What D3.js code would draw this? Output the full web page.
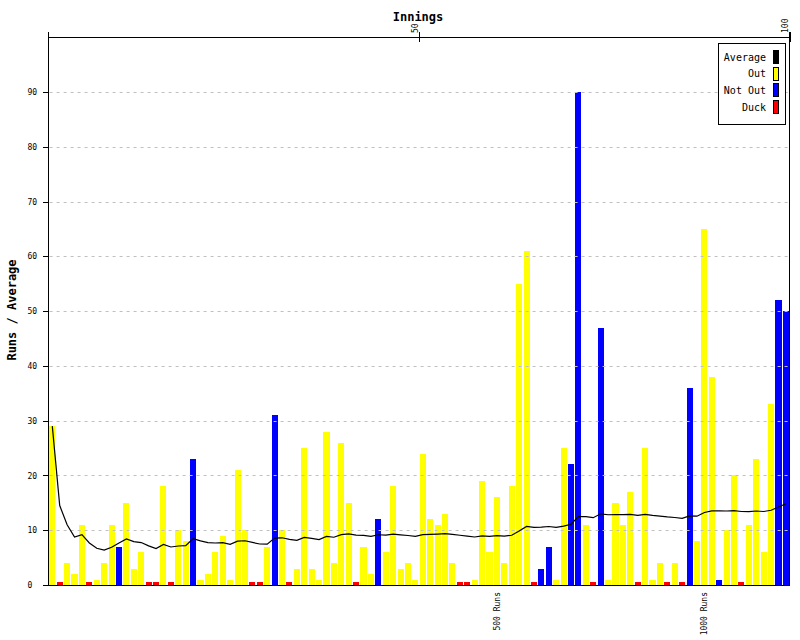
<!DOCTYPE html>
<html>
<head>
<meta charset="utf-8">
<script src="https://cdn.jsdelivr.net/npm/d3@7"></script>
<style>
  html, body { margin: 0; padding: 0; background: #fff; }
  svg { display: block; }
  text { font-family: "DejaVu Sans Mono", monospace; }
</style>
</head>
<body>
<div id="chart"></div>
<script>
// ---------- DATA ----------
const innings = d3.range(1, 101);

const runs = [
  29, 0, 4, 2, 11, 0, 1, 4, 11, 7,
  15, 3, 6, 0, 0, 18, 0, 10, 8, 23,
  1, 2, 6, 9, 1, 21, 10, 0, 0, 7,
  31, 10, 0, 3, 25, 3, 1, 28, 4, 26,
  15, 0, 7, 2, 12, 6, 18, 3, 4, 1,
  24, 12, 11, 13, 4, 0, 0, 1, 19, 6,
  16, 4, 18, 55, 61, 0, 3, 7, 1, 25,
  22, 90, 11, 0, 47, 1, 15, 11, 17, 0,
  25, 1, 4, 0, 4, 0, 36, 8, 65, 38,
  1, 10, 20, 0, 11, 23, 6, 33, 52, 50
];

// O = out, N = not out, D = duck
const status = [
  "O","D","O","O","O","D","O","O","O","N",
  "O","O","O","D","D","O","D","O","O","N",
  "O","O","O","O","O","O","O","D","D","O",
  "N","O","D","O","O","O","O","O","O","O",
  "O","D","O","O","N","O","O","O","O","O",
  "O","O","O","O","O","D","D","O","O","O",
  "O","O","O","O","O","D","N","N","O","O",
  "N","N","O","D","N","O","O","O","O","D",
  "O","O","O","D","O","D","N","O","O","O",
  "N","O","O","D","O","O","O","O","N","N"
];

// running batting average after each innings
const average = [
  29.00, 14.50, 11.00, 8.75, 9.20, 7.67, 6.71, 6.38, 6.89, 7.67,
  8.40, 7.91, 7.75, 7.15, 6.64, 7.40, 6.94, 7.12, 7.17, 8.44,
  8.05, 7.75, 7.67, 7.73, 7.43, 8.00, 8.08, 7.77, 7.48, 7.46,
  8.57, 8.62, 8.33, 8.16, 8.69, 8.52, 8.29, 8.86, 8.72, 9.19,
  9.34, 9.10, 9.05, 8.88, 9.17, 9.10, 9.30, 9.16, 9.04, 8.87,
  9.19, 9.25, 9.29, 9.36, 9.25, 9.08, 8.91, 8.76, 8.95, 8.89,
  9.02, 8.93, 9.08, 9.85, 10.69, 10.52, 10.56, 10.68, 10.52, 10.75,
  11.09, 12.50, 12.48, 12.29, 13.00, 12.82, 12.85, 12.83, 12.89, 12.70,
  12.88, 12.71, 12.59, 12.43, 12.32, 12.16, 12.62, 12.56, 13.23, 13.54,
  13.55, 13.51, 13.59, 13.42, 13.39, 13.51, 13.42, 13.64, 14.24, 14.82
];

const yTicks = [0, 10, 20, 30, 40, 50, 60, 70, 80, 90];
const gridTicks = [10, 20, 30, 40, 50, 60, 70, 80, 90];
const topTicks = [50, 100];
const milestoneLabels = ["500 Runs", "1000 Runs"];
const milestoneInnings = [61, 89];
const duckMarker = 0.55;   // height (in runs) of the duck marker

const legendLabels = ["Average", "Out", "Not Out", "Duck"];
const legendColors = ["#000000", "#ffff00", "#0000ff", "#ff0000"];
const statusColor = { O: "#ffff00", N: "#0000ff", D: "#ff0000" };

// ---------- LAYOUT ----------
const W = 800, H = 640;
const L = 48.6, R = 789.6, T = 37.2, B = 585;

const svg = d3.select("#chart").append("svg")
  .attr("width", W).attr("height", H);
svg.append("rect").attr("width", W).attr("height", H).attr("fill", "#fff");

const y = d3.scaleLinear().domain([0, 100]).range([B, T]);
const x = d3.scaleBand().domain(innings).range([L, R])
  .paddingInner(0.18).paddingOuter(0.09);
const xTop = d3.scaleLinear().domain([0, 100]).range([L, R]);

// ---------- BARS ----------
const data = innings.map((n, i) => ({ n, runs: runs[i], st: status[i], avg: average[i] }));

svg.append("g").selectAll("rect").data(data).join("rect")
  .attr("x", d => x(d.n))
  .attr("width", x.bandwidth())
  .attr("y", d => d.st === "D" ? y(duckMarker) : y(d.runs))
  .attr("height", d => d.st === "D" ? y(0) - y(duckMarker) : y(0) - y(d.runs))
  .attr("fill", d => statusColor[d.st])
  .attr("shape-rendering", "crispEdges");

// ---------- GRID ----------
svg.append("g").selectAll("line").data(gridTicks).join("line")
  .attr("x1", L + 1).attr("x2", R - 1)
  .attr("y1", d => Math.round(y(d)) + 0.5).attr("y2", d => Math.round(y(d)) + 0.5)
  .attr("stroke", "#c0c0c0").attr("stroke-dasharray", "3,4");

// ---------- AVERAGE LINE ----------
svg.append("path").datum(data)
  .attr("fill", "none").attr("stroke", "#000").attr("stroke-width", 1.2)
  .attr("d", d3.line().x(d => x(d.n) + x.bandwidth() / 2).y(d => y(d.avg)));

// ---------- AXES ----------
const axisG = svg.append("g").attr("stroke", "#000").attr("shape-rendering", "crispEdges");
axisG.append("line").attr("x1", 48.5).attr("x2", 48.5).attr("y1", 32).attr("y2", B + 1);
axisG.append("line").attr("x1", 789.5).attr("x2", 789.5).attr("y1", 32).attr("y2", B + 1);
axisG.append("line").attr("x1", 48).attr("x2", 790).attr("y1", 37.5).attr("y2", 37.5);
axisG.append("line").attr("x1", 48).attr("x2", 790).attr("y1", B + 0.5).attr("y2", B + 0.5).attr("stroke-width", 1.5);

// left axis
const yAxis = d3.axisLeft(y).tickValues(yTicks).tickSize(6).tickPadding(0);
const gy = svg.append("g").attr("transform", "translate(48.5,0)").call(yAxis);
gy.select(".domain").remove();
gy.selectAll(".tick line").attr("stroke", "#000").attr("shape-rendering", "crispEdges");
gy.selectAll(".tick text")
  .attr("text-anchor", "start").attr("x", -21)
  .attr("font-family", "DejaVu Sans Mono").attr("font-size", 8).attr("fill", "#000");

// top axis ticks
const gt = svg.append("g");
gt.selectAll("line").data(topTicks).join("line")
  .attr("x1", d => Math.round(xTop(d)) + 0.5).attr("x2", d => Math.round(xTop(d)) + 0.5)
  .attr("y1", 32).attr("y2", 42).attr("stroke", "#000").attr("shape-rendering", "crispEdges");
gt.selectAll("text").data(topTicks).join("text")
  .attr("transform", d => `translate(${xTop(d) - 4},33) rotate(-90)`)
  .attr("dy", "0.35em").attr("text-anchor", "start")
  .attr("font-size", 8).text(d => d);

// milestone labels along the bottom
svg.append("g").selectAll("text").data(milestoneInnings).join("text")
  .attr("transform", d => `translate(${x(d) + x.bandwidth() / 2},592) rotate(-90)`)
  .attr("dy", "0.35em").attr("text-anchor", "end")
  .attr("font-size", 8).text((d, i) => milestoneLabels[i]);

// titles
svg.append("text").attr("x", 418).attr("y", 21).attr("text-anchor", "middle")
  .attr("font-size", 12).attr("font-weight", "bold").text("Innings");
svg.append("text").attr("transform", "translate(12,310) rotate(-90)")
  .attr("dy", "0.35em").attr("text-anchor", "middle")
  .attr("font-size", 12).attr("font-weight", "bold").text("Runs / Average");

// ---------- LEGEND ----------
const lg = svg.append("g");
lg.append("rect").attr("x", 718.5).attr("y", 43.5).attr("width", 67).attr("height", 81)
  .attr("fill", "#fff").attr("stroke", "#000").attr("shape-rendering", "crispEdges");
const rows = lg.selectAll("g").data(legendLabels).join("g")
  .attr("transform", (d, i) => `translate(0,${57 + i * 16.7})`);
rows.append("text").attr("x", 766).attr("dy", "0.35em").attr("text-anchor", "end")
  .attr("font-size", 10).text(d => d);
rows.append("rect").attr("x", 773.5).attr("y", -6.5).attr("width", 5).attr("height", 13)
  .attr("fill", (d, i) => legendColors[i]).attr("stroke", "#000")
  .attr("shape-rendering", "crispEdges");
</script>
</body>
</html>
